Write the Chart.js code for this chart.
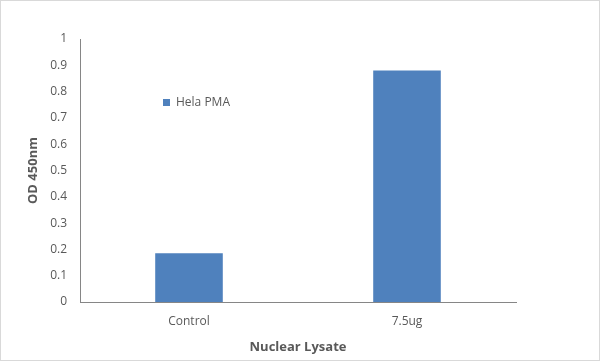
<!DOCTYPE html>
<html>
<head>
<meta charset="utf-8">
<script src="https://cdn.jsdelivr.net/npm/chart.js@4/dist/chart.umd.min.js"></script>
<style>
  html, body { margin: 0; padding: 0; background: #fff; }
  #wrap { width: 600px; height: 361px; position: relative; }
</style>
</head>
<body>
<div id="wrap"><canvas id="chart" width="600" height="361"></canvas></div>
<script>
// --- Data ---
const categories = ['Control', '7.5ug'];
const helaPma = [0.185, 0.88];
const seriesName = 'Hela PMA';
const yTicks = [0, 0.1, 0.2, 0.3, 0.4, 0.5, 0.6, 0.7, 0.8, 0.9, 1];

const barColor = '#4f81bd';
const textColor = '#595959';
const fontFamily = "'Open Sans', 'Liberation Sans', sans-serif";

// legend drawn inside the plot area, like the Excel original
const insideLegend = {
    id: 'insideLegend',
    afterDraw(chart) {
        const ctx = chart.ctx;
        const ds = chart.data.datasets[0];
        ctx.save();
        ctx.fillStyle = ds.backgroundColor;
        ctx.fillRect(163, 99, 7, 7);
        ctx.fillStyle = textColor;
        ctx.font = '12px ' + fontFamily;
        ctx.textBaseline = 'middle';
        ctx.fillText(ds.label, 176, 103);
        // chart outer border
        ctx.strokeStyle = '#d9d9d9';
        ctx.lineWidth = 1;
        ctx.strokeRect(0.5, 0.5, chart.width - 1, chart.height - 1);
        ctx.restore();
    }
};

const ctx = document.getElementById('chart').getContext('2d');
new Chart(ctx, {
    type: 'bar',
    data: {
        labels: categories,
        datasets: [{
            label: seriesName,
            data: helaPma,
            backgroundColor: barColor,
            categoryPercentage: 1,
            barPercentage: 0.31
        }]
    },
    options: {
        responsive: false,
        animation: false,
        layout: { padding: { top: 39, right: 84, bottom: 0, left: 0 } },
        plugins: { legend: { display: false }, tooltip: { enabled: false } },
        scales: {
            x: {
                grid: { display: false, drawTicks: false },
                border: { display: true, color: '#868686', width: 1 },
                ticks: { color: textColor, font: { family: fontFamily, size: 12 }, padding: 12 },
                title: {
                    display: true,
                    text: 'Nuclear Lysate',
                    color: textColor,
                    font: { family: fontFamily, size: 13, weight: 'bold' },
                    padding: { top: 0, bottom: 6 }
                },
                afterFit: s => { s.height = 59; }
            },
            y: {
                min: 0,
                max: 1,
                grid: { display: false, drawTicks: false },
                border: { display: true, color: '#868686', width: 1 },
                afterBuildTicks: s => { s.ticks = yTicks.map(v => ({ value: v })); },
                ticks: {
                    color: textColor,
                    font: { family: fontFamily, size: 12 },
                    padding: 13,
                    callback: v => String(Math.round(v * 10) / 10)
                },
                title: {
                    display: true,
                    text: 'OD 450nm',
                    color: textColor,
                    font: { family: fontFamily, size: 13, weight: 'bold' },
                    padding: { top: 25, bottom: 0 }
                },
                afterFit: s => { s.width = 80; }
            }
        }
    },
    plugins: [insideLegend]
});
</script>
</body>
</html>
